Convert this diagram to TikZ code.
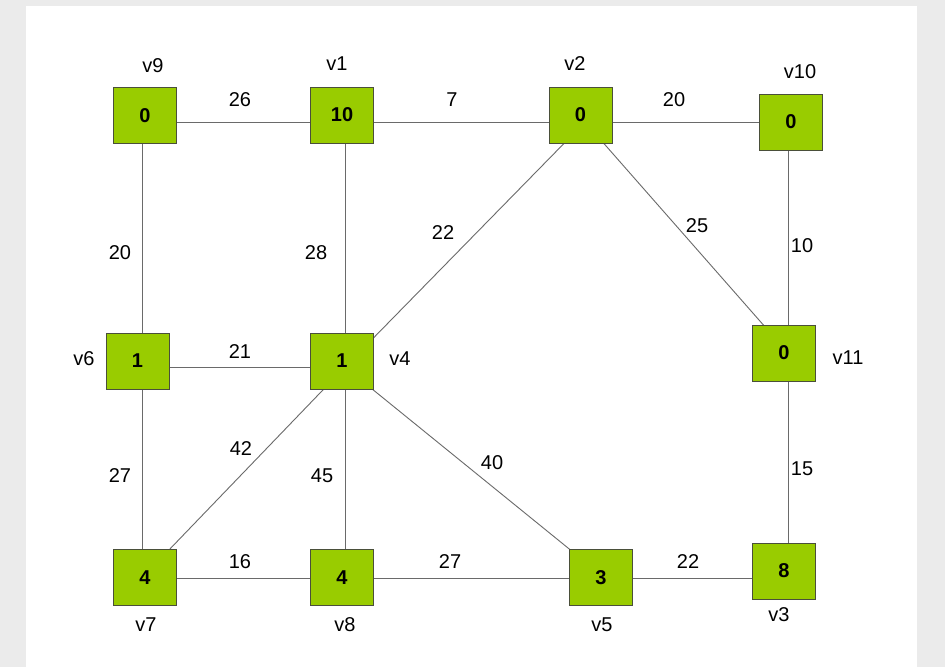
\documentclass[tikz,border=0pt]{standalone}
\usepackage{fontspec}
\setmainfont{Liberation Sans}
\definecolor{bgcol}{HTML}{EBEBEB}
\definecolor{boxfill}{HTML}{99CC00}
\definecolor{boxedge}{HTML}{4A4F3A}
\definecolor{edgecol}{HTML}{6A6A6A}
\begin{document}
\begin{tikzpicture}[x=1pt,y=-1pt,
  vbox/.style={draw=boxedge, fill=boxfill, minimum width=63pt, minimum height=56pt, inner sep=0pt, line width=0.8pt, font=\fontsize{20}{20}\selectfont\bfseries},
  lbl/.style={inner sep=0pt, font=\fontsize{20}{20}\selectfont},
  wline/.style={draw=edgecol, line width=0.9pt}]
\fill[bgcol] (0,0) rectangle (945,667);
\fill[white] (26,6) rectangle (917,667);
% connector end points (hidden behind boxes)
\coordinate (c9) at (142,122);
\coordinate (c1) at (345,122);
\coordinate (c2) at (585,122);
\coordinate (c10) at (788,122);
\coordinate (c6) at (142,367);
\coordinate (c4) at (345,367);
\coordinate (c11) at (788,353);
\coordinate (c7) at (142,578);
\coordinate (c8) at (345,578);
\coordinate (c5) at (605,578);
\coordinate (c3) at (788,578);
% connectors
\draw[wline] (c9) -- (c1);
\draw[wline] (c1) -- (c2);
\draw[wline] (c2) -- (c10);
\draw[wline] (c9) -- (c6);
\draw[wline] (c1) -- (c4);
\draw[wline] (c4) -- (c2);
\draw[wline] (c2) -- (c11);
\draw[wline] (c10) -- (c11);
\draw[wline] (c6) -- (c4);
\draw[wline] (c4) -- (c7);
\draw[wline] (c4) -- (c8);
\draw[wline] (c4) -- (c5);
\draw[wline] (c6) -- (c7);
\draw[wline] (c11) -- (c3);
\draw[wline] (c7) -- (c8);
\draw[wline] (c8) -- (c5);
\draw[wline] (c5) -- (c3);
% boxes
\node[vbox] (v9) at (145,115.5) {0};
\node[vbox] (v1) at (342,115) {10};
\node[vbox] (v2) at (580.5,115) {0};
\node[vbox] (v10) at (791,122) {0};
\node[vbox] (v6) at (137.5,361) {1};
\node[vbox] (v4) at (342,361) {1};
\node[vbox] (v11) at (784,353) {0};
\node[vbox] (v7) at (145,577.5) {4};
\node[vbox] (v8) at (342,577.5) {4};
\node[vbox] (v5) at (601,577.5) {3};
\node[vbox] (v3) at (784,571) {8};
% vertex names
\node[lbl] (n9) at (153,66) {v9};
\node[lbl] (n1) at (337,64) {v1};
\node[lbl] (n2) at (575,64) {v2};
\node[lbl] (n10) at (800,72) {v10};
\node[lbl] (n6) at (84,359) {v6};
\node[lbl] (n4) at (400,359) {v4};
\node[lbl] (n11) at (848,358) {v11};
\node[lbl] (n7) at (146,625) {v7};
\node[lbl] (n8) at (345,625) {v8};
\node[lbl] (n5) at (602,625) {v5};
\node[lbl] (n3) at (779,615) {v3};
% weights
\node[lbl] (w1) at (240,100) {26};
\node[lbl] (w2) at (452,100) {7};
\node[lbl] (w3) at (674,100) {20};
\node[lbl] (w4) at (120,253) {20};
\node[lbl] (w5) at (316,253) {28};
\node[lbl] (w6) at (443,233) {22};
\node[lbl] (w7) at (697,226) {25};
\node[lbl] (w8) at (802,246) {10};
\node[lbl] (w9) at (240,352) {21};
\node[lbl] (w10) at (241,449) {42};
\node[lbl] (w11) at (322,476) {45};
\node[lbl] (w12) at (492,463) {40};
\node[lbl] (w13) at (120,476) {27};
\node[lbl] (w14) at (802,469) {15};
\node[lbl] (w15) at (240,562) {16};
\node[lbl] (w16) at (450,562) {27};
\node[lbl] (w17) at (688,562) {22};
\end{tikzpicture}
\end{document}
